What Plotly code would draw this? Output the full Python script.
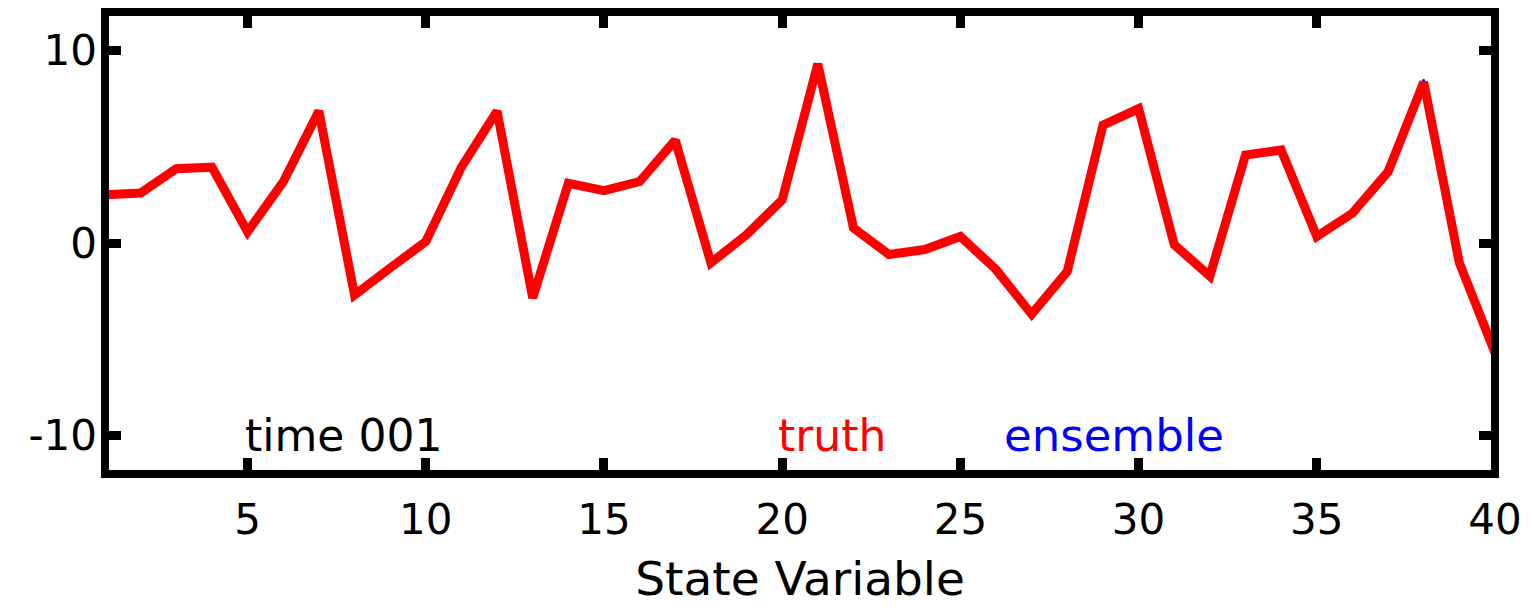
import plotly.graph_objects as go

state_variable = list(range(1, 41))
truth = [2.5, 2.6, 3.86, 3.94, 0.58, 3.17, 6.85, -2.7, -1.3, 0.07,
         3.94, 6.85, -2.85, 3.1, 2.72, 3.19, 5.34, -1.03, 0.43, 2.24,
         9.3, 0.78, -0.6, -0.34, 0.34, -1.38, -3.7, -1.47, 6.12, 6.98,
         -0.09, -1.72, 4.57, 4.83, 0.34, 1.55, 3.7, 8.36, -1.03, -5.7]
ensemble = [2.5, 2.65, 3.86, 3.94, 0.58, 3.17, 6.85, -2.75, -1.3, 0.07,
            3.94, 6.85, -2.9, 3.1, 2.72, 3.19, 5.34, -1.03, 0.43, 2.24,
            9.33, 0.78, -0.6, -0.34, 0.34, -1.38, -3.75, -1.47, 6.12, 6.98,
            -0.09, -1.8, 4.57, 4.83, 0.3, 1.55, 3.7, 8.5, -1.03, -5.7]
x_ticks = [5, 10, 15, 20, 25, 30, 35, 40]
y_ticks = [-10, 0, 10]
y_tick_labels = ["-10", "0", "10"]

FONT = "DejaVu Sans, Liberation Sans, Arial, sans-serif"

fig = go.Figure()
fig.add_trace(go.Scatter(x=state_variable, y=ensemble, mode="lines",
                         line=dict(color="blue", width=2), showlegend=False))
fig.add_trace(go.Scatter(x=state_variable, y=truth, mode="lines",
                         line=dict(color="red", width=9), showlegend=False))

fig.add_annotation(x=7.7, y=-10, text="time 001", showarrow=False,
                   font=dict(family=FONT, size=44, color="black"))
fig.add_annotation(x=21.4, y=-10, text="truth", showarrow=False,
                   font=dict(family=FONT, size=44, color="red"))
fig.add_annotation(x=29.3, y=-10, text="ensemble", showarrow=False,
                   font=dict(family=FONT, size=45, color="blue"))

# box frame centred on the plot-area edges
fig.add_shape(type="rect", xref="paper", yref="paper", x0=0, x1=1, y0=0, y1=1,
              line=dict(color="black", width=8), layer="above")

axis_common = dict(showline=False, mirror="ticks", automargin=False,
                   ticks="inside", ticklen=16, tickwidth=9, tickcolor="black",
                   showgrid=False, zeroline=False,
                   tickfont=dict(family=FONT, size=42, color="black"))

fig.update_xaxes(range=[1, 40], tickvals=x_ticks, ticklabelstandoff=17,
                 title=dict(text="State Variable", font=dict(family=FONT, size=47, color="black"),
                            standoff=33),
                 **axis_common)
fig.update_yaxes(range=[-12, 12], tickvals=y_ticks, ticktext=y_tick_labels,
                 ticklabelstandoff=7, **axis_common)

# page body has an 8px default margin, so the figure is sized to fit inside the window
fig.update_layout(width=1517, height=598, plot_bgcolor="white", paper_bgcolor="white",
                  margin=dict(l=97, r=30, t=4, b=132), showlegend=False)

fig.write_html("out.html")
